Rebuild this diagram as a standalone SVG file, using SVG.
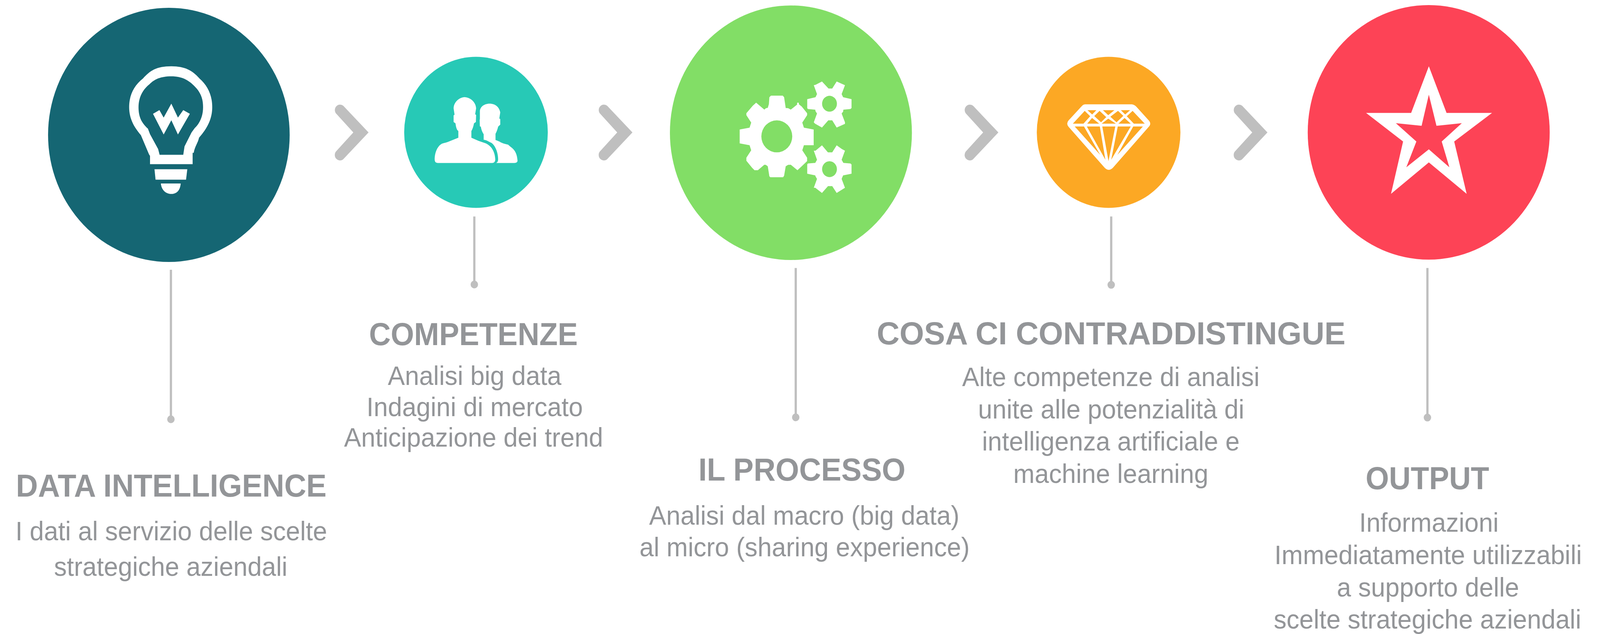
<svg xmlns="http://www.w3.org/2000/svg" xmlns:xlink="http://www.w3.org/1999/xlink" width="4311" height="1624" viewBox="0 0 4311 1624" preserveAspectRatio="none">
<style>
svg{width:100vw;height:100vh;display:block}
.h{font-family:"Liberation Sans",Arial,sans-serif;font-weight:700;font-size:81px;fill:#939598;text-anchor:middle}
.b{font-family:"Liberation Sans",Arial,sans-serif;font-weight:400;font-size:69px;fill:#939598;text-anchor:middle}
.i{fill:#fff}
.e{fill:#fff;fill-rule:evenodd}
.s{fill:#bfbfbf}
</style>
<defs>
<path id="chev" d="M993 339.3L925 271A14 14 0 0 0 904.8 290L952 339.3L904.8 388.6A14 14 0 0 0 925 407.7Z"/>
</defs>
<g id="connectors" class="s">
<use xlink:href="#chev" href="#chev"/>
<use xlink:href="#chev" href="#chev" x="711"/>
<use xlink:href="#chev" href="#chev" x="1697"/>
<use xlink:href="#chev" href="#chev" x="2422"/>
<rect x="457.5" y="691" width="6" height="383"/><circle cx="460.5" cy="1074" r="10"/>
<rect x="1275" y="554.5" width="6" height="174"/><circle cx="1278" cy="728.7" r="10"/>
<rect x="2141" y="686.5" width="6" height="382"/><circle cx="2144" cy="1069" r="10"/>
<rect x="2991" y="554.5" width="6" height="175"/><circle cx="2994" cy="729.6" r="10"/>
<rect x="3843" y="686.5" width="6" height="383"/><circle cx="3846" cy="1069.6" r="10"/>
</g>
<g id="node-data-intelligence">
<circle cx="455" cy="345.5" r="325.5" fill="#156673"/>
<g transform="translate(100 0) scale(.574 .4464)">
<path class="e" d="M630 380C560 380 530 405 497 450C455 490 432 545 432 615C432 680 455 730 487 775L525 885L530 895L530 942L730 942L730 877L735 877C740 840 755 820 760 790C800 735 822 680 822 615C822 545 800 490 762 450C730 405 695 380 630 380ZM630 438C580 438 550 455 528 483C495 515 476 560 476 615C476 670 490 705 520 738L530 770L568 855L575 888L686 888L692 840L725 760L740 735C765 705 779 665 779 615C779 560 765 525 735 490C710 460 680 438 630 438Z"/>
<polygon class="i" points="544,653 574,632 594,675 630,595 661,675 686,632 717,653 661,772 630,690 594,772"/>
<polygon class="i" points="551,971 705,971 699,1031 556,1031"/>
<path class="i" d="M581 1053L674 1053C672 1085 660 1113 630 1113C600 1113 583 1085 581 1053Z"/>
</g>
<text class="h" x="461.5" y="1271.7" textLength="837" lengthAdjust="spacingAndGlyphs">DATA INTELLIGENCE</text>
<text class="b" x="461.5" y="1383.8">I dati al servizio delle scelte</text>
<text class="b" x="460" y="1474.6">strategiche aziendali</text>
</g>
<g id="node-competenze">
<circle cx="1282.5" cy="339" r="193.5" fill="#27c9b6"/>
<g transform="translate(1050 0) scale(.6378 .4464)">
<path class="i" d="M316 557C290 560 270 590 270 622L274 658L270 662L270 700L278 708C280 730 283 745 290 752L290 790L245 815C235 820 225 822 220 825C200 840 190 880 190 915C190 928 195 935 203 935L433 935C442 935 446 925 446 915C445 880 435 840 405 822L375 808L345 790L345 752C350 740 354 725 356 708L364 700L365 660L361 655L365 622C364 590 345 560 316 557Z"/>
<path class="i" d="M422 595C398 595 381 615 381 640L381 682L380 690L381 725L385 727C387 745 392 760 397 770L397 802C405 802 415 810 430 820C450 840 458 885 458 915C458 925 455 932 450 935L527 935C535 935 540 930 540 922C538 885 530 860 510 842L500 830C485 825 475 822 465 813L447 803L447 768C452 755 456 740 458 727L467 715L467 683L463 680L467 645C463 615 447 595 422 595Z"/>
</g>
<text class="h" x="1275.5" y="884.3">COMPETENZE</text>
<text class="b" x="1278.8" y="986.4">Analisi big data</text>
<text class="b" x="1279" y="1065.8">Indagini di mercato</text>
<text class="b" x="1276" y="1144.2">Anticipazione dei trend</text>
</g>
<g id="node-il-processo">
<circle cx="2131" cy="340" r="326" fill="#82de66"/>
<g transform="translate(1960 180) scale(.33333)">
<path class="e" d="M352 195L447 195L458 207L471 290L490 291L512 302L563 264L564 249L576 249L578 262L600 278L644 330L644 345L605 402L618 441L697 455L697 576L618 576L605 615L644 672L644 698L600 738L566 768L512 726L490 727L471 738L458 810L450 822L347 822L339 815L326 738L310 727L298 726L246 768L219 768L200 750L153 695L153 672L192 615L179 576L99 562L99 455L179 441L192 402L153 345L153 330L205 272L232 249L298 302L312 291L326 289L335 260L339 207ZM524 508A125 123 0 1 0 274 508A125 123 0 1 0 524 508Z"/>
<path class="e" d="M764 86L817 140L847 140L883 86L950 115L923 183L935 207L1003 222L1003 290L994 298L937 303L935 318L923 332L950 400L950 412L883 440L847 385L815 385L764 440L708 410L698 400L724 332L712 315L710 303L650 298L645 290L645 222L712 207L724 183L698 115L712 112ZM885 257A60 61 0 1 0 765 257A60 61 0 1 0 885 257Z"/>
<path class="e" d="M764 577L812 631L847 631L883 577L925 605L950 618L923 688L937 712L994 716L1003 724L1003 795L935 808L923 835L950 903L883 943L847 890L813 890L764 943L710 903L698 903L724 835L712 815L710 808L645 795L645 724L650 716L710 712L724 688L698 618L712 618ZM885 760A60 61 0 1 0 765 760A60 61 0 1 0 885 760Z"/>
</g>
<text class="h" x="2160.8" y="1231.4" textLength="558" lengthAdjust="spacingAndGlyphs">IL PROCESSO</text>
<text class="b" x="2167" y="1343.7">Analisi dal macro (big data)</text>
<text class="b" x="2167.8" y="1425.3">al micro (sharing experience)</text>
</g>
<g id="node-cosa-ci-contraddistingue">
<circle cx="2987" cy="339" r="193.5" fill="#fca824"/>
<g transform="translate(2850 250) scale(.33333)">
<path class="e" d="M220 52L600 52Q620 55 635 70L735 175Q760 200 735 225L445 540Q412 570 380 540L88 225Q65 200 88 175L190 70Q205 52 220 52ZM240 97L312 97L278 130ZM365 97L458 97L408 135ZM510 97L585 97L545 130ZM338 102L392 150L350 190L295 142ZM487 102L530 140L475 190L425 147ZM218 102L262 143L208 200L122 200ZM605 102L703 200L615 200L558 143ZM277 157L335 200L238 200ZM408 162L470 200L355 200ZM540 157L590 200L490 200ZM137 222L212 222L343 440ZM235 222L340 222L385 478ZM360 222L465 222L410 488ZM485 222L590 222L432 478ZM610 222L688 222L482 440Z"/>
</g>
<text class="h" x="2993.7" y="882.5" textLength="1263" lengthAdjust="spacingAndGlyphs">COSA CI CONTRADDISTINGUE</text>
<text class="b" x="2993" y="988.6">Alte competenze di analisi</text>
<text class="b" x="2993.8" y="1071.8">unite alle potenzialità di</text>
<text class="b" x="2993" y="1153.9">intelligenza artificiale e</text>
<text class="b" x="2993" y="1236.8">machine learning</text>
</g>
<g id="node-output">
<circle cx="3849.5" cy="339" r="326" fill="#fd4356"/>
<g transform="translate(2550 0) scale(1.0841 .4464)">
<path class="e" d="M1199 380L1243 648L1356 648L1262 812L1293 1112L1199 932L1105 1112L1135 812L1043 648L1155 648ZM1199 543L1218 722L1281 707L1231 812L1250 960L1199 857L1143 960L1168 812L1117 707L1181 722Z"/>
</g>
<text class="h" x="3846" y="1252.7">OUTPUT</text>
<text class="b" x="3850" y="1362">Informazioni</text>
<text class="b" x="3848" y="1444.9">Immediatamente utilizzabili</text>
<text class="b" x="3847.5" y="1528">a supporto delle</text>
<text class="b" x="3846" y="1610">scelte strategiche aziendali</text>
</g>
</svg>
